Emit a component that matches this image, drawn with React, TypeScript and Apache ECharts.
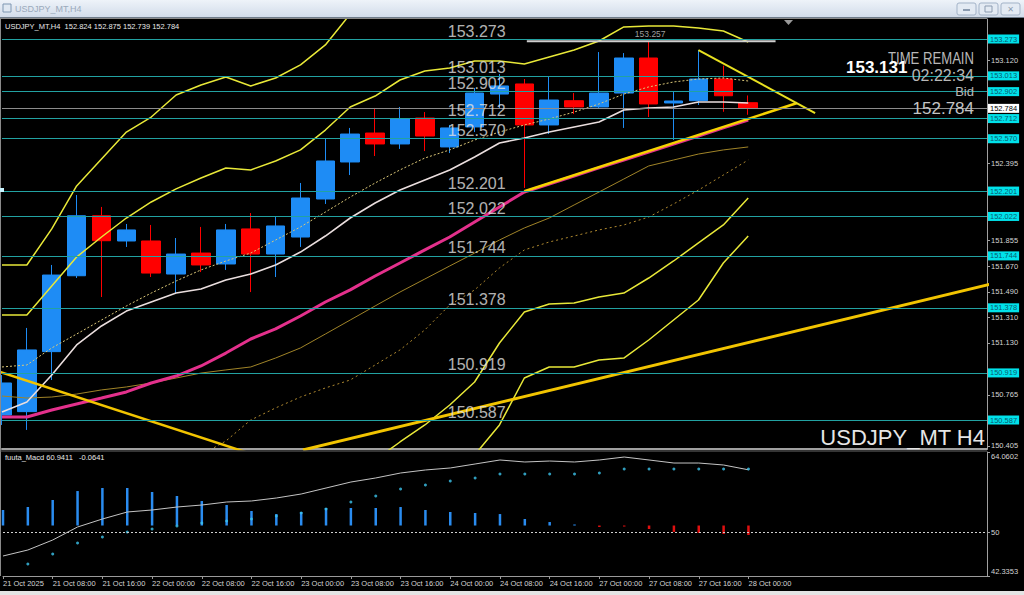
import React, { useEffect, useRef } from 'react';
import * as echarts from 'echarts';

// ---------- data ----------
const TIME_LABELS = ['21 Oct 2025', '21 Oct 08:00', '21 Oct 16:00', '22 Oct 00:00', '22 Oct 08:00', '22 Oct 16:00', '23 Oct 00:00', '23 Oct 08:00', '23 Oct 16:00', '24 Oct 00:00', '24 Oct 08:00', '24 Oct 16:00', '27 Oct 00:00', '27 Oct 08:00', '27 Oct 16:00', '28 Oct 00:00'];

const OPEN = [150.622, 150.646, 151.069, 151.604, 152.027, 151.849, 151.849, 151.616, 151.764, 151.687, 151.934, 151.757, 151.877, 152.145, 152.406, 152.610, 152.533, 152.716, 152.512, 152.653, 152.885, 152.956, 152.667, 152.838, 152.794, 152.892, 153.139, 152.822, 152.838, 152.991, 152.824];
const HIGH = [150.904, 151.236, 151.680, 152.173, 152.089, 151.969, 151.962, 151.870, 151.948, 151.969, 152.046, 152.018, 152.258, 152.575, 152.646, 152.787, 152.794, 152.758, 152.667, 152.928, 153.026, 152.991, 153.012, 152.892, 153.181, 153.174, 153.257, 152.899, 153.195, 153.085, 152.875];
const LOW = [150.552, 150.517, 150.869, 151.588, 151.454, 151.807, 151.595, 151.482, 151.630, 151.645, 151.489, 151.595, 151.807, 152.110, 152.314, 152.448, 152.498, 152.483, 152.469, 152.617, 152.787, 152.223, 152.603, 152.744, 152.787, 152.646, 152.723, 152.561, 152.808, 152.760, 152.739];
const CLOSE = [150.848, 151.081, 151.609, 152.027, 151.851, 151.927, 151.623, 151.757, 151.680, 151.927, 151.757, 151.955, 152.152, 152.413, 152.603, 152.533, 152.709, 152.589, 152.646, 152.892, 152.942, 152.667, 152.843, 152.794, 152.892, 153.139, 152.815, 152.836, 152.991, 152.873, 152.784];

const MA_WHITE = [150.643, 150.714, 150.904, 151.116, 151.250, 151.355, 151.419, 151.482, 151.511, 151.574, 151.616, 151.680, 151.771, 151.884, 152.011, 152.117, 152.208, 152.279, 152.350, 152.441, 152.540, 152.575, 152.617, 152.653, 152.688, 152.772, 152.787, 152.794, 152.829, 152.829, 152.822];
const MA_DOTTED = [150.961, 150.975, 151.095, 151.193, 151.292, 151.391, 151.482, 151.567, 151.645, 151.708, 151.764, 151.856, 151.948, 152.053, 152.159, 152.258, 152.350, 152.434, 152.491, 152.561, 152.617, 152.667, 152.709, 152.758, 152.815, 152.885, 152.935, 152.970, 152.991, 152.998, 152.977];
const MA_MAGENTA = [150.608, 150.608, 150.658, 150.700, 150.742, 150.785, 150.848, 150.897, 150.968, 151.059, 151.158, 151.229, 151.320, 151.419, 151.504, 151.602, 151.694, 151.786, 151.877, 151.983, 152.089, 152.194, 152.251, 152.307, 152.364, 152.420, 152.476, 152.533, 152.589, 152.646, 152.702];
const MA_GOLD = [150.756, 150.742, 150.749, 150.770, 150.799, 150.820, 150.848, 150.883, 150.918, 150.940, 150.961, 151.024, 151.095, 151.193, 151.292, 151.391, 151.489, 151.581, 151.673, 151.764, 151.856, 151.941, 152.011, 152.103, 152.194, 152.286, 152.378, 152.420, 152.462, 152.491, 152.512];
const MA_GOLD_DOTTED_START = 8;
const MA_GOLD_DOTTED = [150.340, 150.439, 150.587, 150.672, 150.749, 150.813, 150.869, 150.975, 151.081, 151.222, 151.398, 151.504, 151.659, 151.786, 151.842, 151.884, 151.927, 151.962, 152.018, 152.110, 152.208, 152.314, 152.420];

const BAND_UP_OUTER = [151.680, 151.680, 151.934, 152.237, 152.427, 152.617, 152.723, 152.878, 152.949, 153.005, 152.942, 152.998, 153.090, 153.231, 153.449];
const BAND_UP_INNER = [151.327, 151.327, 151.532, 151.736, 151.877, 152.011, 152.124, 152.216, 152.293, 152.364, 152.350, 152.413, 152.491, 152.631, 152.794, 152.871, 152.984, 153.047, 153.069, 153.118, 153.118, 153.097, 153.146, 153.195, 153.259, 153.358, 153.365, 153.365, 153.350, 153.329, 153.252];
const BAND_LOW_INNER_START = 14;
const BAND_LOW_INNER = [150.164, 150.305, 150.432, 150.552, 150.693, 150.855, 151.130, 151.348, 151.405, 151.412, 151.454, 151.482, 151.588, 151.708, 151.835, 151.962, 152.152];
const BAND_LOW_OUTER_START = 18;
const BAND_LOW_OUTER = [150.094, 150.340, 150.552, 150.883, 150.961, 150.961, 151.010, 151.024, 151.151, 151.292, 151.433, 151.694, 151.884];

const TREND_DOWN = [[-0.08, 150.925], [9.97, 150.351]];
const TREND_UP_LONG = [[12.1, 150.376], [40, 151.556]];
const TRI_LOW = [[21, 152.2], [31.97, 152.822]];
const TRI_HIGH = [[28, 153.195], [32.69, 152.751]];
const HIGH_SEG = [[21.1, 153.257], [31.1, 153.257]];
const HIGH_MARK = [[26.06, 153.257]];

const LEVELS = [153.273, 153.013, 152.902, 152.712, 152.570, 152.201, 152.022, 151.744, 151.378, 150.919, 150.587];
const BID = 152.784;
const PRICE_TICKS = [153.12, 152.395, 151.855, 151.67, 151.49, 151.31, 151.13, 150.765, 150.405];

const MACD_LINE = [45.84, 46.89, 48.64, 50.92, 52.32, 53.55, 53.90, 54.42, 54.77, 55.30, 55.48, 56.00, 56.70, 57.75, 58.80, 59.51, 60.38, 60.91, 61.26, 61.96, 62.66, 62.31, 62.48, 62.31, 62.66, 63.18, 62.66, 62.13, 62.13, 61.78, 60.94];
const MACD_DOTS = [null, 44.44, 46.19, 48.12, 49.17, 50.04, 50.57, 51.10, 51.62, 51.97, 52.32, 52.85, 53.37, 54.07, 55.30, 56.35, 57.58, 58.28, 58.98, 59.51, 60.21, 60.21, 60.21, 60.21, 60.38, 61.08, 61.08, 61.08, 61.08, 61.08, 61.08];
const HIST_BASE = 51.18;
const MACD_HIST = [2.72, 3.24, 4.47, 6.04, 6.57, 6.57, 5.87, 5.17, 4.29, 3.59, 2.54, 2.01, 2.37, 3.07, 3.07, 3.07, 3.24, 2.72, 2.37, 2.19, 2.01, 1.14, 0.61, 0.18, -0.26, -0.18, -0.61, -1.14, -1.31, -1.49, -1.66];
const MACD_TICKS = [64.0602, 50, 42.3353];

// ---------- layout constants ----------
const Y_MIN = 150.3826;
const Y_MAX = 153.414;
const X_MAX = 39.6;
const LABEL_X = 17.9;
const FONT = "'Liberation Sans', Arial, sans-serif";
const TIME_TICKS = TIME_LABELS.map((_, k) => k * 2);

const series = (arr: (number | null)[], start = 0) => arr.map((v, k) => [start + k, v]);

function mainLine(data: any[], color: string, width: number, type: any = 'solid', z = 2) {
  return {
    type: 'line', xAxisIndex: 0, yAxisIndex: 0, data, symbol: 'none', showSymbol: false,
    silent: true, clip: true, z, lineStyle: { color, width, type }, animation: false,
  };
}

function levelText(p: any) {
  const d = p && p.data;
  const v = d && d.yAxis != null ? Number(d.yAxis) : Number(p.value);
  return v.toFixed(3);
}

function buildOption() {
  const candleData = OPEN.map((o, i) => [i, o, CLOSE[i], LOW[i], HIGH[i]]);
  return {
    animation: false,
    backgroundColor: '#000000',
    grid: [
      { left: 2, top: 19, width: 985, height: 430 },
      { left: 2, top: 452, width: 985, height: 124 },
    ],
    xAxis: [
      {
        type: 'value', gridIndex: 0, min: 0, max: X_MAX,
        axisLine: { show: true, onZero: false, lineStyle: { color: '#a0a0a0', width: 2 } },
        axisTick: { show: false }, axisLabel: { show: false }, splitLine: { show: false },
      },
      {
        type: 'value', gridIndex: 1, min: 0, max: X_MAX,
        axisLine: { show: true, onZero: false, lineStyle: { color: '#9a9a9a', width: 1 } },
        axisTick: { show: true, customValues: TIME_TICKS, length: 3, lineStyle: { color: '#9a9a9a' } },
        axisLabel: {
          show: true, customValues: TIME_TICKS, align: 'left', margin: 3,
          formatter: (v: number) => TIME_LABELS[Math.round(v / 2)] ?? '',
          color: '#d4d4d4', fontSize: 7.5, fontFamily: FONT,
        },
        splitLine: { show: false },
      },
    ],
    yAxis: [
      {
        type: 'value', gridIndex: 0, position: 'right', min: Y_MIN, max: Y_MAX,
        axisLine: { show: true, onZero: false, lineStyle: { color: '#a0a0a0' } },
        axisTick: { show: true, customValues: PRICE_TICKS, length: 3, lineStyle: { color: '#a0a0a0' } },
        axisLabel: {
          show: true, customValues: PRICE_TICKS, margin: 4,
          formatter: (v: number) => v.toFixed(3), color: '#d4d4d4', fontSize: 7.5, fontFamily: FONT,
        },
        splitLine: { show: false },
      },
      {
        type: 'value', gridIndex: 1, position: 'right', min: 42.3353, max: 64.0602,
        axisLine: { show: true, onZero: false, lineStyle: { color: '#a0a0a0' } },
        axisTick: { show: true, customValues: MACD_TICKS, length: 3, lineStyle: { color: '#a0a0a0' } },
        axisLabel: {
          show: true, customValues: MACD_TICKS, margin: 4,
          formatter: (v: number) => (v === 50 ? '50' : v > 60 ? '{t|' + v.toFixed(4) + '}' : '{b|' + v.toFixed(4) + '}'),
          color: '#d4d4d4', fontSize: 7.5, fontFamily: FONT,
          rich: {
            t: { padding: [8, 0, 0, 0], color: '#d4d4d4', fontSize: 7.5, fontFamily: FONT },
            b: { padding: [0, 0, 10, 0], color: '#d4d4d4', fontSize: 7.5, fontFamily: FONT },
          },
        },
        splitLine: { show: false },
      },
    ],
    series: [
      // candles
      {
        type: 'candlestick', xAxisIndex: 0, yAxisIndex: 0, barWidth: 19, z: 2,
        encode: { x: 0, y: [1, 2, 3, 4] }, data: candleData, silent: true,
        itemStyle: { color: '#1e8cf5', color0: '#ff0000', borderColor: '#1e8cf5', borderColor0: '#ff0000', borderWidth: 1 },
      },
      // moving averages
      mainLine(series(MA_GOLD_DOTTED, MA_GOLD_DOTTED_START), '#b08a30', 1, [2, 3], 3),
      mainLine(series(MA_GOLD), '#a08428', 1, 'solid', 3),
      mainLine(series(MA_MAGENTA), '#e4308c', 3, 'solid', 3),
      mainLine(series(MA_DOTTED), '#dcc878', 1, [2, 2], 3),
      mainLine(series(MA_WHITE), '#eadede', 1.6, 'solid', 3),
      // bands
      mainLine(series(BAND_UP_OUTER), '#e8e838', 1.5, 'solid', 3),
      mainLine(series(BAND_UP_INNER), '#e8e838', 1.5, 'solid', 3),
      mainLine(series(BAND_LOW_INNER, BAND_LOW_INNER_START), '#e8e838', 1.5, 'solid', 3),
      mainLine(series(BAND_LOW_OUTER, BAND_LOW_OUTER_START), '#e8e838', 1.5, 'solid', 3),
      // trend lines
      mainLine(TREND_DOWN, '#f2c400', 2.5, 'solid', 4),
      mainLine(TREND_UP_LONG, '#f2c400', 3, 'solid', 4),
      mainLine(TRI_LOW, '#f6d200', 2.5, 'solid', 4),
      mainLine(TRI_HIGH, '#e8e020', 2, 'solid', 4),
      mainLine(HIGH_SEG, '#cfcfcf', 2, 'solid', 4),
      // horizontal levels + bid
      {
        type: 'line', xAxisIndex: 0, yAxisIndex: 0, data: [], silent: true, z: 5,
        markLine: {
          silent: true, symbol: ['none', 'none'], animation: false, precision: 3,
          lineStyle: { color: '#22a2a2', width: 1, type: 'solid' },
          label: {
            show: true, position: 'end', distance: 1,
            formatter: levelText,
            backgroundColor: '#00e2ea', color: '#0a5a70', fontSize: 7.5, fontFamily: FONT,
            padding: [1, 2, 0, 2],
          },
          data: [
            ...LEVELS.map((v) => ({ yAxis: v })),
            {
              yAxis: BID,
              lineStyle: { color: '#8c8c8c', width: 1, type: 'solid' },
              label: { backgroundColor: '#ffffff', color: '#000000' },
            },
          ],
        },
      },
      // level captions
      {
        type: 'scatter', xAxisIndex: 0, yAxisIndex: 0, z: 8, silent: true,
        data: LEVELS.map((v) => [LABEL_X, v]), symbolSize: 1,
        itemStyle: { color: 'rgba(0,0,0,0)' },
        label: {
          show: true, position: 'right', distance: 0, offset: [0, -8],
          formatter: (p: any) => p.value[1].toFixed(3),
          color: '#e2e2e2', fontSize: 16, fontFamily: FONT,
        },
      },
      {
        type: 'scatter', xAxisIndex: 0, yAxisIndex: 0, z: 8, silent: true,
        data: HIGH_MARK, symbolSize: 1, itemStyle: { color: 'rgba(0,0,0,0)' },
        label: {
          show: true, position: 'top', distance: 2,
          formatter: (p: any) => p.value[1].toFixed(3),
          color: '#c8c8c8', fontSize: 8.5, fontFamily: FONT,
        },
      },
      // MACD pane
      {
        type: 'custom', xAxisIndex: 1, yAxisIndex: 1, silent: true, z: 2,
        data: series(MACD_HIST), encode: { x: 0, y: 1 },
        renderItem: (params: any, api: any) => {
          const i = api.value(0);
          const h = api.value(1);
          const a = api.coord([i, HIST_BASE]);
          const b = api.coord([i, HIST_BASE + h]);
          const top = Math.min(a[1], b[1]);
          const hh = Math.max(Math.abs(a[1] - b[1]), 1);
          return {
            type: 'rect',
            shape: { x: a[0] - 1.25, y: top, width: 2.5, height: hh },
            style: { fill: h >= 0 ? '#2a8cf0' : '#e01010' },
          };
        },
      },
      {
        type: 'line', xAxisIndex: 1, yAxisIndex: 1, data: series(MACD_LINE), symbol: 'none',
        silent: true, z: 3, lineStyle: { color: '#c4c4c4', width: 1 },
        markLine: {
          silent: true, symbol: ['none', 'none'], animation: false,
          lineStyle: { color: '#d0d0d0', width: 1, type: [2, 2] },
          label: { show: false },
          data: [{ yAxis: 50 }],
        },
      },
      {
        type: 'scatter', xAxisIndex: 1, yAxisIndex: 1, data: series(MACD_DOTS), symbolSize: 3,
        silent: true, z: 4, itemStyle: { color: '#3cc4ec' },
      },
    ],
    graphic: [
      // window title bar
      {
        type: 'rect', silent: true, z: 100,
        shape: { x: 0, y: 0, width: 1024, height: 17 },
        style: {
          fill: new echarts.graphic.LinearGradient(0, 0, 0, 1, [
            { offset: 0, color: '#eef3f9' },
            { offset: 1, color: '#d2dcea' },
          ]),
        },
      },
      { type: 'line', silent: true, z: 100, shape: { x1: 0, y1: 17.5, x2: 1024, y2: 17.5 }, style: { stroke: '#6f7c8a', lineWidth: 1 } },
      { type: 'rect', silent: true, z: 101, shape: { x: 3, y: 4, width: 8, height: 8 }, style: { fill: '#dfe8f2', stroke: '#7f97b2', lineWidth: 1 } },
      { type: 'text', silent: true, z: 101, x: 15, y: 9, style: { text: 'USDJPY_MT,H4', fill: '#9aa9bb', fontSize: 9, fontFamily: FONT, verticalAlign: 'middle' } },
      { type: 'rect', silent: true, z: 101, shape: { x: 957, y: 3, width: 19, height: 12, r: 2 }, style: { fill: '#e3eaf3', stroke: '#a3b3c8', lineWidth: 1 } },
      { type: 'rect', silent: true, z: 101, shape: { x: 979, y: 3, width: 19, height: 12, r: 2 }, style: { fill: '#e3eaf3', stroke: '#a3b3c8', lineWidth: 1 } },
      { type: 'rect', silent: true, z: 101, shape: { x: 1001, y: 3, width: 19, height: 12, r: 2 }, style: { fill: '#e3eaf3', stroke: '#a3b3c8', lineWidth: 1 } },
      { type: 'rect', silent: true, z: 102, shape: { x: 963, y: 9, width: 7, height: 2 }, style: { fill: '#8b9bb0' } },
      { type: 'rect', silent: true, z: 102, shape: { x: 985, y: 6, width: 7, height: 6 }, style: { fill: 'none', stroke: '#8b9bb0', lineWidth: 1 } },
      { type: 'text', silent: true, z: 102, x: 1010.5, y: 9.5, style: { text: '✕', fill: '#8b9bb0', fontSize: 8, fontFamily: "'DejaVu Sans'", align: 'center', verticalAlign: 'middle' } },
      // chart frame
      { type: 'line', silent: true, z: 50, shape: { x1: 0, y1: 18.5, x2: 987, y2: 18.5 }, style: { stroke: '#8a8a8a', lineWidth: 1 } },
      { type: 'line', silent: true, z: 50, shape: { x1: 0.5, y1: 18, x2: 0.5, y2: 576 }, style: { stroke: '#8a8a8a', lineWidth: 1 } },
      { type: 'line', silent: true, z: 50, shape: { x1: 0, y1: 451, x2: 987, y2: 451 }, style: { stroke: '#6a6a6a', lineWidth: 1 } },
      { type: 'rect', silent: true, z: 50, shape: { x: 0, y: 591, width: 1024, height: 4 }, style: { fill: '#e4e4e4' } },
      { type: 'polygon', silent: true, z: 50, shape: { points: [[784, 20], [793, 20], [788.5, 25]] }, style: { fill: '#9a9a9a' } },
      { type: 'rect', silent: true, z: 50, shape: { x: 0, y: 188, width: 4, height: 4 }, style: { fill: '#c8f4ff' } },
      // header texts
      { type: 'text', silent: true, z: 60, x: 5, y: 26, style: { text: 'USDJPY_MT,H4  152.824 152.875 152.739 152.784', fill: '#e8e8e8', fontSize: 7.5, fontFamily: FONT, verticalAlign: 'middle' } },
      { type: 'text', silent: true, z: 60, x: 5, y: 457, style: { text: 'fuuta_Macd 60.9411   -0.0641', fill: '#e8e8e8', fontSize: 7.5, fontFamily: FONT, verticalAlign: 'middle' } },
      // right-side info
      { type: 'text', silent: true, z: 60, x: 974, y: 59, scaleX: 0.82, style: { text: 'TIME REMAIN', fill: '#b8b8b8', fontSize: 16, fontFamily: FONT, align: 'right', verticalAlign: 'middle' } },
      { type: 'text', silent: true, z: 60, x: 974, y: 75.5, style: { text: '02:22:34', fill: '#b8b8b8', fontSize: 16, fontFamily: FONT, align: 'right', verticalAlign: 'middle' } },
      { type: 'text', silent: true, z: 60, x: 974, y: 91.5, style: { text: 'Bid', fill: '#b8b8b8', fontSize: 13, fontFamily: FONT, align: 'right', verticalAlign: 'middle' } },
      { type: 'text', silent: true, z: 60, x: 974, y: 108, style: { text: '152.784', fill: '#c4c4c4', fontSize: 17, fontFamily: FONT, align: 'right', verticalAlign: 'middle' } },
      { type: 'text', silent: true, z: 61, x: 846, y: 67, style: { text: '153.131', fill: '#ffffff', fontSize: 17, fontWeight: 'bold', fontFamily: FONT, verticalAlign: 'middle' } },
      { type: 'text', silent: true, z: 60, x: 985, y: 437, style: { text: 'USDJPY_MT H4', fill: '#e6e6e6', fontSize: 22, fontFamily: FONT, align: 'right', verticalAlign: 'middle' } },
    ],
  };
}

export default function App() {
  const ref = useRef<HTMLDivElement>(null);
  useEffect(() => {
    const el = ref.current;
    if (!el) return;
    const chart = echarts.init(el, null, { renderer: 'svg' });
    chart.setOption(buildOption() as any);
    return () => chart.dispose();
  }, []);
  return <div ref={ref} style={{ position: 'fixed', left: 0, top: 0, width: 1024, height: 595, background: '#000' }} />;
}
